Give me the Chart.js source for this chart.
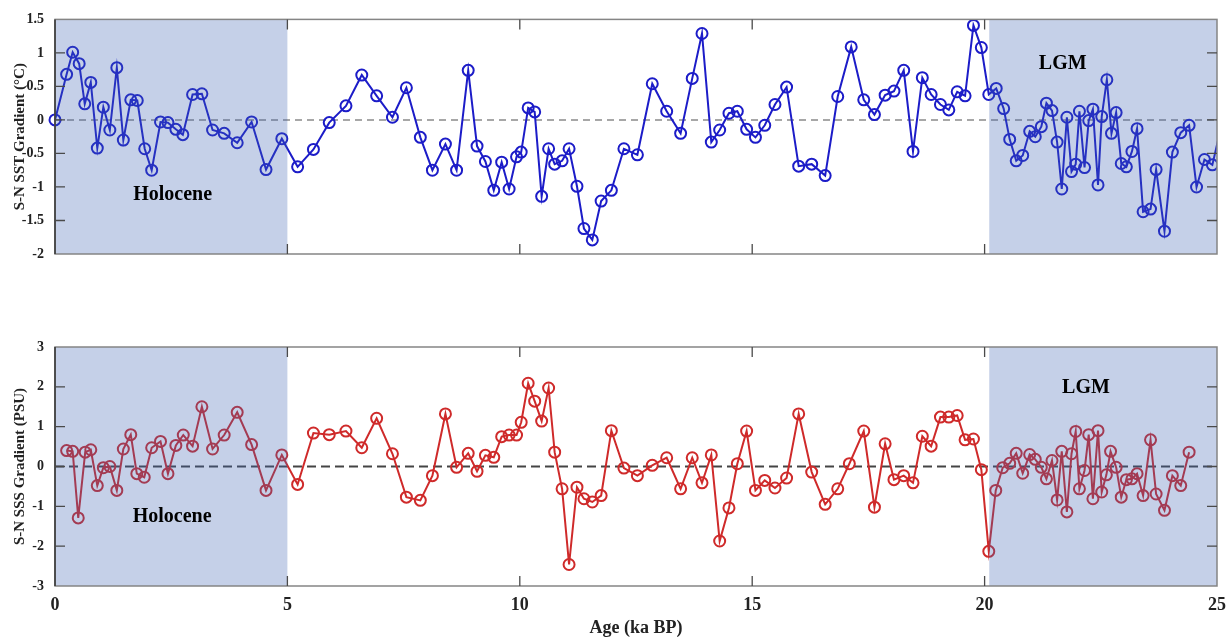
<!DOCTYPE html>
<html>
<head>
<meta charset="utf-8">
<script src="https://cdn.jsdelivr.net/npm/chart.js@4"></script>
<style>
  html, body { margin: 0; padding: 0; background: #fff; }
  #wrap { position: relative; width: 1226px; height: 640px; }
  canvas { position: absolute; left: 0; }
  #sstChart { top: 0; }
  #sssChart { top: 300px; }
</style>
</head>
<body>
<div id="wrap">
  <canvas id="sstChart" width="1226" height="300"></canvas>
  <canvas id="sssChart" width="1226" height="340"></canvas>
</div>
<script>
// S-N sea surface temperature gradient (°C) by age (ka BP)
const sstAge = [
  0, 0.25, 0.38, 0.52, 0.64, 0.77, 0.91, 1.04, 1.18, 1.33,
  1.47, 1.63, 1.77, 1.93, 2.08, 2.27, 2.43, 2.60, 2.75, 2.96,
  3.16, 3.39, 3.64, 3.92, 4.23, 4.54, 4.88, 5.22, 5.56, 5.90,
  6.26, 6.60, 6.92, 7.26, 7.56, 7.86, 8.12, 8.40, 8.64, 8.89,
  9.08, 9.26, 9.44, 9.61, 9.77, 9.93, 10.03, 10.18, 10.32, 10.47,
  10.62, 10.75, 10.91, 11.06, 11.23, 11.38, 11.56, 11.75, 11.97, 12.24,
  12.53, 12.85, 13.16, 13.46, 13.71, 13.92, 14.12, 14.30, 14.50, 14.68,
  14.88, 15.07, 15.27, 15.49, 15.74, 16.00, 16.28, 16.57, 16.84, 17.13,
  17.40, 17.63, 17.86, 18.05, 18.26, 18.46, 18.66, 18.85, 19.05, 19.23,
  19.41, 19.58, 19.76, 19.93, 20.09, 20.25, 20.41, 20.54, 20.68, 20.82,
  20.97, 21.09, 21.22, 21.33, 21.45, 21.56, 21.66, 21.77, 21.87, 21.96,
  22.04, 22.15, 22.24, 22.33, 22.44, 22.52, 22.63, 22.73, 22.83, 22.94,
  23.05, 23.17, 23.28, 23.41, 23.57, 23.69, 23.87, 24.04, 24.22, 24.40,
  24.56, 24.73, 24.90, 25.10
];
const sstGradient = [
  0, 0.68, 1.01, 0.84, 0.24, 0.56, -0.42, 0.19, -0.15, 0.78,
  -0.30, 0.30, 0.29, -0.43, -0.75, -0.03, -0.04, -0.14, -0.22, 0.38,
  0.39, -0.15, -0.20, -0.34, -0.03, -0.74, -0.28, -0.70, -0.44, -0.04,
  0.21, 0.67, 0.36, 0.04, 0.48, -0.26, -0.75, -0.36, -0.75, 0.74,
  -0.39, -0.62, -1.05, -0.63, -1.03, -0.55, -0.48, 0.18, 0.12, -1.14,
  -0.43, -0.66, -0.61, -0.43, -0.99, -1.62, -1.79, -1.21, -1.05, -0.43,
  -0.52, 0.54, 0.13, -0.20, 0.62, 1.29, -0.33, -0.15, 0.10, 0.13,
  -0.14, -0.26, -0.08, 0.23, 0.49, -0.69, -0.66, -0.83, 0.35, 1.09,
  0.30, 0.08, 0.37, 0.43, 0.74, -0.47, 0.63, 0.38, 0.23, 0.15,
  0.42, 0.36, 1.41, 1.08, 0.38, 0.47, 0.17, -0.29, -0.61, -0.53,
  -0.17, -0.25, -0.10, 0.25, 0.14, -0.33, -1.03, 0.04, -0.77, -0.66,
  0.13, -0.71, -0.01, 0.16, -0.97, 0.05, 0.60, -0.20, 0.11, -0.65,
  -0.70, -0.47, -0.13, -1.37, -1.33, -0.74, -1.66, -0.48, -0.19, -0.08,
  -1.00, -0.59, -0.67, -0.07
];

// S-N sea surface salinity gradient (PSU) by age (ka BP)
const sssAge = [
  0.25, 0.38, 0.50, 0.65, 0.77, 0.91, 1.04, 1.18, 1.33, 1.47,
  1.63, 1.76, 1.92, 2.08, 2.27, 2.43, 2.60, 2.76, 2.96, 3.16,
  3.39, 3.64, 3.92, 4.23, 4.54, 4.88, 5.22, 5.56, 5.90, 6.26,
  6.60, 6.92, 7.26, 7.56, 7.86, 8.12, 8.40, 8.64, 8.89, 9.08,
  9.26, 9.44, 9.61, 9.77, 9.93, 10.03, 10.18, 10.32, 10.47, 10.62,
  10.75, 10.91, 11.06, 11.23, 11.38, 11.56, 11.75, 11.97, 12.24, 12.53,
  12.85, 13.16, 13.46, 13.71, 13.92, 14.12, 14.30, 14.50, 14.68, 14.88,
  15.07, 15.27, 15.49, 15.74, 16.00, 16.28, 16.57, 16.84, 17.09, 17.40,
  17.63, 17.86, 18.05, 18.26, 18.46, 18.66, 18.85, 19.05, 19.23, 19.41,
  19.58, 19.76, 19.93, 20.09, 20.24, 20.39, 20.54, 20.68, 20.82, 20.97,
  21.09, 21.22, 21.33, 21.45, 21.56, 21.66, 21.77, 21.87, 21.96, 22.04,
  22.15, 22.24, 22.33, 22.44, 22.52, 22.62, 22.71, 22.83, 22.94, 23.05,
  23.17, 23.28, 23.41, 23.57, 23.69, 23.87, 24.04, 24.22, 24.40
];
const sssGradient = [
  0.40, 0.38, -1.29, 0.36, 0.42, -0.48, -0.03, 0.00, -0.60, 0.44,
  0.80, -0.18, -0.27, 0.47, 0.63, -0.18, 0.53, 0.79, 0.51, 1.50,
  0.44, 0.79, 1.36, 0.55, -0.60, 0.29, -0.45, 0.84, 0.80, 0.89,
  0.47, 1.21, 0.32, -0.77, -0.85, -0.23, 1.32, -0.02, 0.33, -0.12,
  0.28, 0.23, 0.75, 0.79, 0.79, 1.11, 2.09, 1.64, 1.14, 1.97,
  0.36, -0.56, -2.46, -0.52, -0.81, -0.89, -0.73, 0.90, -0.04, -0.23,
  0.03, 0.22, -0.56, 0.22, -0.41, 0.29, -1.87, -1.04, 0.07, 0.89,
  -0.60, -0.35, -0.54, -0.29, 1.32, -0.14, -0.95, -0.56, 0.07, 0.89,
  -1.02, 0.57, -0.33, -0.23, -0.41, 0.76, 0.51, 1.24, 1.24, 1.28,
  0.67, 0.69, -0.08, -2.13, -0.60, -0.03, 0.08, 0.33, -0.17, 0.30,
  0.18, -0.02, -0.31, 0.15, -0.84, 0.38, -1.14, 0.32, 0.88, -0.56,
  -0.10, 0.80, -0.81, 0.90, -0.64, -0.21, 0.38, -0.02, -0.77, -0.33,
  -0.31, -0.18, -0.73, 0.67, -0.69, -1.10, -0.23, -0.48, 0.36
];

const ageTicks = [0, 5, 10, 15, 20, 25];
const sstTicks = [-2, -1.5, -1, -0.5, 0, 0.5, 1, 1.5];
const sssTicks = [-3, -2, -1, 0, 1, 2, 3];

// shaded periods (ka BP)
const holoceneSpan = [0, 5];
const lgmSpan = [20.1, 25];

const serif = "'Liberation Serif', 'Times New Roman', serif";

// zero line, shaded periods, box frame with inward ticks, period labels
const periodPlugin = {
  id: 'periods',
  beforeDatasetsDraw(chart, args, opts) {
    const { ctx, chartArea: a, scales: { y } } = chart;
    const y0 = y.getPixelForValue(0);
    ctx.save();
    ctx.strokeStyle = opts.zeroColor;
    ctx.lineWidth = opts.zeroWidth;
    ctx.setLineDash(opts.zeroDash);
    ctx.beginPath();
    ctx.moveTo(a.left, y0);
    ctx.lineTo(a.right, y0);
    ctx.stroke();
    ctx.restore();
  },
  afterDatasetsDraw(chart, args, opts) {
    const { ctx, chartArea: a, scales: { x, y } } = chart;
    ctx.save();

    ctx.fillStyle = 'rgba(62, 98, 178, 0.3)';
    [holoceneSpan, lgmSpan].forEach(([from, to]) => {
      const x1 = x.getPixelForValue(from);
      const x2 = x.getPixelForValue(to);
      ctx.fillRect(x1, a.top, x2 - x1, a.bottom - a.top);
    });

    ctx.strokeStyle = '#858585';
    ctx.lineWidth = 1.5;
    ctx.strokeRect(a.left, a.top, a.right - a.left, a.bottom - a.top);
    ctx.strokeStyle = '#333';
    ctx.beginPath();
    ctx.moveTo(a.left, a.top);
    ctx.lineTo(a.left, a.bottom);
    ctx.stroke();

    const tick = 10;
    ctx.strokeStyle = '#4a4a4a';
    ctx.lineWidth = 1.3;
    ctx.beginPath();
    ageTicks.slice(1, -1).forEach(v => {
      const px = x.getPixelForValue(v);
      ctx.moveTo(px, a.top); ctx.lineTo(px, a.top + tick);
      ctx.moveTo(px, a.bottom); ctx.lineTo(px, a.bottom - tick);
    });
    opts.yTicks.slice(1, -1).forEach(v => {
      const py = y.getPixelForValue(v);
      ctx.moveTo(a.left, py); ctx.lineTo(a.left + tick, py);
      ctx.moveTo(a.right, py); ctx.lineTo(a.right - tick, py);
    });
    ctx.stroke();

    ctx.fillStyle = '#000';
    ctx.font = `bold 20px ${serif}`;
    ctx.textAlign = 'center';
    ctx.textBaseline = 'middle';
    opts.labels.forEach(l => {
      ctx.fillText(l.text, x.getPixelForValue(l.x), y.getPixelForValue(l.y));
    });
    ctx.restore();
  }
};

function series(ages, values, color) {
  return {
    data: ages.map((a, i) => ({ x: a, y: values[i] })),
    borderColor: color,
    borderWidth: 2,
    pointRadius: ages.map(a => (a > 25 ? 0 : 5.5)),
    pointBorderWidth: 2,
    pointBorderColor: color,
    pointBackgroundColor: 'rgba(0,0,0,0)',
    tension: 0,
    clip: { left: 10, top: 10, bottom: 10, right: 0 }
  };
}

function yAxis(min, max, ticks, title) {
  return {
    min: min,
    max: max,
    afterBuildTicks: s => { s.ticks = ticks.map(v => ({ value: v })); },
    afterFit: s => { s.width = 55; },
    grid: { display: false, drawTicks: false },
    border: { display: false },
    ticks: {
      padding: 11,
      color: '#222',
      font: { family: serif, size: 14, weight: 'bold' },
      callback: v => String(v)
    },
    title: {
      display: true,
      text: title,
      color: '#222',
      font: { family: serif, size: 15, weight: 'bold' },
      padding: { top: 11, bottom: 0 }
    }
  };
}

new Chart(document.getElementById('sstChart'), {
  type: 'line',
  data: { datasets: [series(sstAge, sstGradient, '#1c1cc8')] },
  options: {
    responsive: false,
    animation: false,
    layout: { padding: { top: 15, right: 9, bottom: 46, left: 0 } },
    scales: {
      x: { type: 'linear', min: 0, max: 25, display: false },
      y: yAxis(-2, 1.5, sstTicks, 'S-N SST Gradient (°C)')
    },
    plugins: {
      legend: { display: false },
      tooltip: { enabled: false },
      periods: {
        zeroColor: '#8a8a8a', zeroWidth: 1.5, zeroDash: [7, 5],
        yTicks: sstTicks,
        labels: [
          { text: 'Holocene', x: 2.53, y: -1.12 },
          { text: 'LGM', x: 21.68, y: 0.84 }
        ]
      }
    }
  },
  plugins: [periodPlugin]
});

new Chart(document.getElementById('sssChart'), {
  type: 'line',
  data: { datasets: [series(sssAge, sssGradient, '#cf2a2a')] },
  options: {
    responsive: false,
    animation: false,
    layout: { padding: { top: 47, right: 9, bottom: 0, left: 0 } },
    scales: {
      x: {
        type: 'linear',
        min: 0,
        max: 25,
        afterBuildTicks: s => { s.ticks = ageTicks.map(v => ({ value: v })); },
        afterFit: s => {
          s.height = 54;
          // edge labels may overhang the plot box
          s.paddingLeft = 0;
          s.paddingRight = 0;
        },
        grid: { display: false, drawTicks: false },
        border: { display: false },
        ticks: {
          padding: 9,
          maxRotation: 0,
          color: '#222',
          font: { family: serif, size: 18, weight: 'bold' }
        },
        title: {
          display: true,
          text: 'Age (ka BP)',
          color: '#222',
          font: { family: serif, size: 18, weight: 'bold' },
          padding: { top: 0, bottom: 1 }
        }
      },
      y: yAxis(-3, 3, sssTicks, 'S-N SSS Gradient (PSU)')
    },
    plugins: {
      legend: { display: false },
      tooltip: { enabled: false },
      periods: {
        zeroColor: '#444', zeroWidth: 1.8, zeroDash: [9, 5],
        yTicks: sssTicks,
        labels: [
          { text: 'Holocene', x: 2.52, y: -1.26 },
          { text: 'LGM', x: 22.18, y: 1.97 }
        ]
      }
    }
  },
  plugins: [periodPlugin]
});
</script>
</body>
</html>
